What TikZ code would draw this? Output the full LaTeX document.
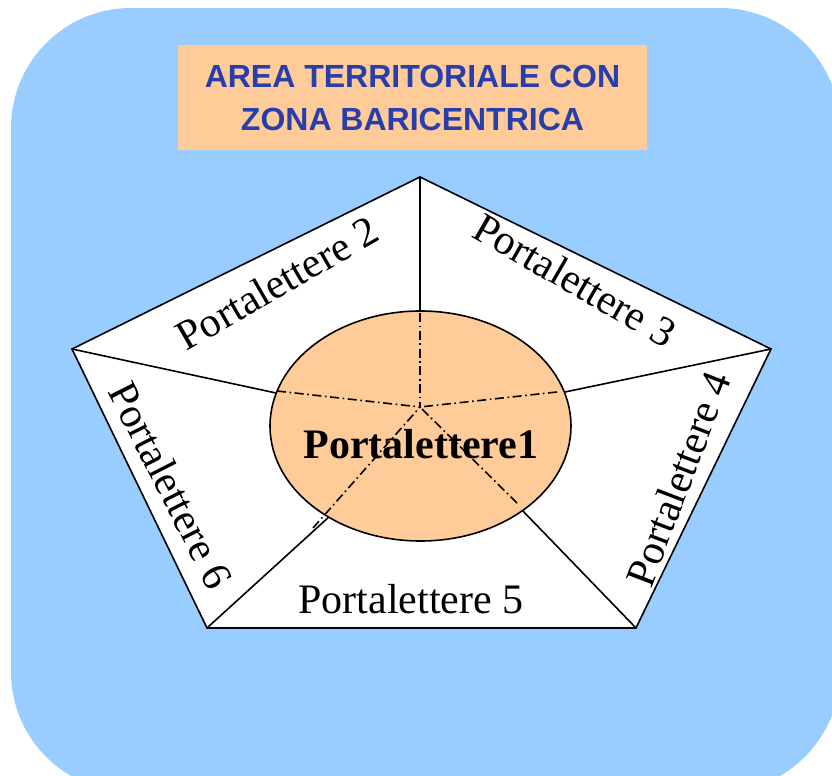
\documentclass[tikz,border=0pt]{standalone}
\usepackage{fontspec}
\setmainfont{Liberation Serif}
\newfontfamily\titlefont{Liberation Sans}
\usetikzlibrary{shapes.geometric}
\definecolor{skyblue}{RGB}{153,204,255}
\definecolor{peach}{RGB}{255,204,153}
\definecolor{titleblue}{RGB}{40,62,170}

\begin{document}
\begin{tikzpicture}[x=0.5pt,y=-0.5pt,% pixel grid of the picture
					every node/.style={
						align=center,  		% "\\" breaks the title
						inner sep=0pt,
						font=\fontsize{21}{25}\selectfont
						},
					every edge/.style={draw,line width=0.8pt},
					dotline/.style={draw,line width=0.8pt,dash pattern=on 4.5pt off 1.8pt on 0.8pt off 1.8pt}
					]
\useasboundingbox (0,0) rectangle (832,776);
\clip (0,0) rectangle (832,776);
\fill[skyblue,rounded corners=60pt] (11,8) rectangle (840,792);

\node[fill=peach,minimum width=234.5pt,minimum height=52.5pt,text=titleblue,
      font=\titlefont\bfseries\fontsize{16}{21.5}\selectfont](titolo) at (412.5,97.5){AREA TERRITORIALE CON\\ ZONA BARICENTRICA};

% pentagon corners, rim points, hub
\coordinate (vA) at (420,177);
\coordinate (vB) at (72,349);
\coordinate (vC) at (771,349);
\coordinate (vD) at (207,628);
\coordinate (vE) at (636,628);
\coordinate (bA) at (420,311);
\coordinate (bB) at (276,393);
\coordinate (bC) at (565,392);
\coordinate (bD) at (330,516);
\coordinate (bE) at (521,509);
\coordinate (hub) at (420,407);

\draw[line width=0.8pt,fill=white] (vA) -- (vC) -- (vE) -- (vD) -- (vB) -- cycle;
\path
(vA)edge (bA)
(vB)edge (bB)
(vC)edge (bC)
(vD)edge (bD)
(vE)edge (bE)
;
\node[ellipse,draw,line width=0.8pt,fill=peach,minimum width=150.5pt,minimum height=115pt](zona) at (420.5,426){};
\node[font=\bfseries\fontsize{21}{25}\selectfont](p1) at (421,444){Portalettere1};

\draw[dotline] (420,313) -- (hub);
\draw[dotline] (277,391) -- (hub);
\draw[dotline] (557,392) -- (hub);
\draw[dotline] (313,528) -- (hub);
\draw[dotline] (517,503) -- (hub);

\node[rotate=30](p2) at (277,283){Portalettere 2};
\node[rotate=-30](p3) at (575,280){Portalettere 3};
\node[rotate=69](p4) at (678,479){Portalettere 4};
\node(p5) at (411,599){Portalettere 5};
\node[rotate=-63](p6) at (171,485){Portalettere 6};
\end{tikzpicture}
\end{document}
